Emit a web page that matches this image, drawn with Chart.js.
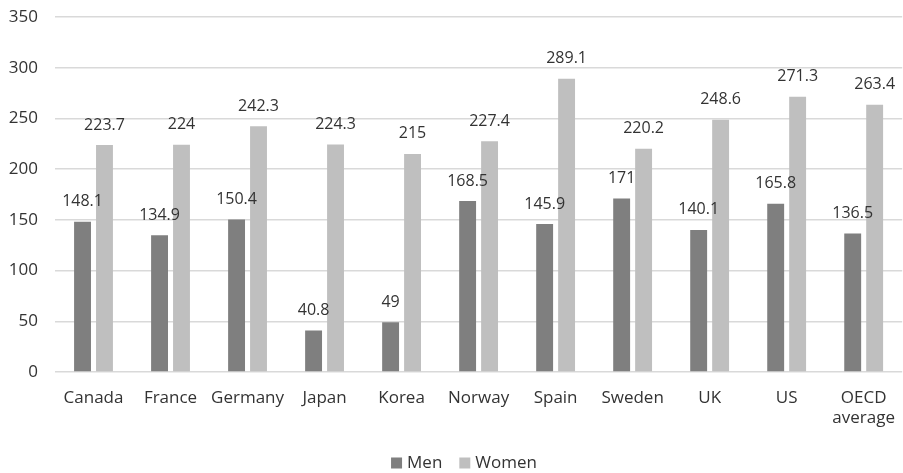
<!DOCTYPE html>
<html>
<head>
<meta charset="utf-8">
<script src="https://cdn.jsdelivr.net/npm/chart.js@4/dist/chart.umd.min.js"></script>
<style>
  html, body { margin: 0; padding: 0; background: #fff; }
  #wrap { width: 903px; height: 473px; }
</style>
</head>
<body>
<div id="wrap"><canvas id="chart"></canvas></div>
<script>
var countries = ["Canada", "France", "Germany", "Japan", "Korea", "Norway", "Spain", "Sweden", "UK", "US", ["OECD", "average"]];
var men = [148.1, 134.9, 150.4, 40.8, 49, 168.5, 145.9, 171, 140.1, 165.8, 136.5];
var women = [223.7, 224, 242.3, 224.3, 215, 227.4, 289.1, 220.2, 248.6, 271.3, 263.4];
var yTicks = [0, 50, 100, 150, 200, 250, 300, 350];

var textColor = "#333333";
var fontFamily = "'Open Sans', sans-serif";

// draws the value above each bar
var barLabels = {
    id: 'barLabels',
    afterDatasetsDraw: function(chart) {
        var ctx = chart.ctx;
        ctx.save();
        ctx.font = "16px " + fontFamily;
        ctx.fillStyle = textColor;
        ctx.textAlign = "center";
        ctx.textBaseline = "middle";
        chart.data.datasets.forEach(function(ds, i) {
            chart.getDatasetMeta(i).data.forEach(function(bar, j) {
                ctx.fillText(String(ds.data[j]), bar.x, bar.y - 20);
            });
        });
        ctx.restore();
    }
};

// legend at the bottom, drawn by hand so it can sit close to the edge
var bottomLegend = {
    id: 'bottomLegend',
    afterDraw: function(chart) {
        var ctx = chart.ctx;
        ctx.save();
        ctx.font = "17px " + fontFamily;
        ctx.textBaseline = "middle";
        var y = 463, box = 11, gap = 5, spacing = 17;
        var items = chart.data.datasets.map(function(ds) {
            return { text: ds.label, color: ds.backgroundColor, w: ctx.measureText(ds.label).width };
        });
        var total = 0;
        items.forEach(function(it, i) { total += box + gap + it.w + (i ? spacing : 0); });
        var x = 464 - total / 2;
        items.forEach(function(it) {
            ctx.fillStyle = it.color;
            ctx.fillRect(x, y - box / 2, box, box);
            x += box + gap;
            ctx.fillStyle = textColor;
            ctx.fillText(it.text, x, y);
            x += it.w + spacing;
        });
        ctx.restore();
    }
};

var ctx = document.getElementById("chart").getContext("2d");
new Chart(ctx, {
    type: "bar",
    data: {
        labels: countries,
        datasets: [{
            label: "Men",
            data: men,
            backgroundColor: "#7f7f7f",
            barPercentage: 0.77,
            categoryPercentage: 0.57
        }, {
            label: "Women",
            data: women,
            backgroundColor: "#bfbfbf",
            barPercentage: 0.77,
            categoryPercentage: 0.57
        }]
    },
    options: {
        responsive: true,
        maintainAspectRatio: false,
        animation: false,
        layout: { padding: 0 },
        plugins: {
            legend: { display: false },
            tooltip: { enabled: false }
        },
        scales: {
            x: {
                grid: { display: false },
                border: { display: false },
                afterFit: function(axis) { axis.height = 101; },
                ticks: {
                    color: textColor,
                    font: { size: 17, family: fontFamily },
                    padding: 8,
                    maxRotation: 0
                }
            },
            y: {
                min: 0,
                max: 350,
                afterBuildTicks: function(axis) {
                    axis.ticks = yTicks.map(function(v) { return { value: v }; });
                },
                afterFit: function(axis) {
                    axis.width = 55;
                    axis.paddingTop = 17;
                },
                grid: { color: "#d9d9d9", lineWidth: 1.5, drawTicks: false },
                border: { display: false },
                ticks: {
                    color: textColor,
                    font: { size: 17, family: fontFamily },
                    padding: 17
                }
            }
        }
    },
    plugins: [barLabels, bottomLegend]
});
</script>
</body>
</html>
